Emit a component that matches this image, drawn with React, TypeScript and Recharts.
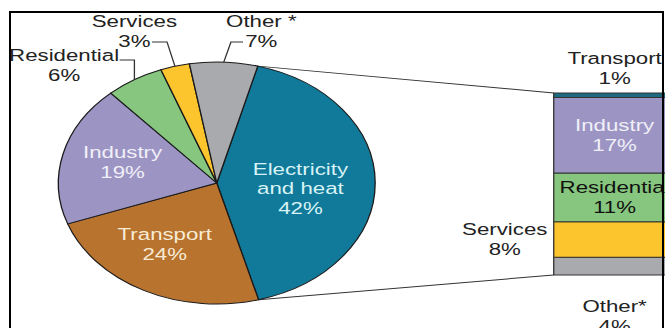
import React from 'react';
import { PieChart, Pie, Cell, BarChart, Bar, XAxis, YAxis, LabelList } from 'recharts';

// Pie: CO2 emissions by sector
const pieNames = ['Electricity\nand heat', 'Transport', 'Industry', 'Residential', 'Services', 'Other *'];
const pieValues = [42, 24, 19, 6, 3, 7];
const pieColors = ['#117a9a', '#b8732f', '#9c95c3', '#86c67e', '#fcc52e', '#a9aaae'];

// Bar: breakdown of electricity and heat by end-use sector (top to bottom)
const barNames = ['Transport', 'Industry', 'Residential', 'Services', 'Other*'];
const barValues = [1, 17, 11, 8, 4];
const barColors = ['#1b6a80', '#9c95c3', '#86c67e', '#fcc52e', '#a9aaae'];

const W = 665;
const H = 328;
const INNER_W = 508; // drawn narrower, then stretched like the original image
const SX = W / INNER_W;
const FONT = "'Liberation Sans', Arial, sans-serif";

const PIE = { cx: 165.6, cy: 183, r: 121, start: 75 };
// bar runs past the right edge of the picture, as in the cropped original
const BAR = { left: 423, width: 110, top: 93, bottom: 53, chartW: 560, labelCx: 46.5 };

const RAD = Math.PI / 180;

const pieData = pieNames.map((name, i) => ({ name, value: pieValues[i] }));
const barRow: Record<string, number | string> = { name: 'Electricity and heat' };
barNames.forEach((n, i) => (barRow[n] = barValues[i]));
const barTotal = barValues.reduce((a, b) => a + b, 0);
const pieTotal = pieValues.reduce((a, b) => a + b, 0);

// label layout per slice
const insideLabels: Record<string, { frac: number; nudge: number; fill: string }> = {
  'Electricity\nand heat': { frac: 0.53, nudge: -5, fill: '#d8f3f6' },
  Transport: { frac: 0.6, nudge: -5.7, fill: '#f7ebd5' },
  Industry: { frac: 0.62, nudge: -2.3, fill: '#f0eff8' },
};
const outsideLabels: Record<string, { elbowDx: number; elbowY: number; endDx: number; textDx: number; textY: number }> = {
  Residential: { elbowDx: 0, elbowY: 60, endDx: -11.3, textDx: -42.4, textY: 55 },
  Services: { elbowDx: -6.1, elbowY: 42, endDx: -11.5, textDx: -13.4, textY: 21 },
  'Other *': { elbowDx: 5.5, elbowY: 42, endDx: 9.2, textDx: 14, textY: 21 },
};

function PieLabel(props: any) {
  const { cx, cy, midAngle, outerRadius, name, value } = props;
  const lines = [...String(name).split('\n'), `${value}%`];
  const inside = insideLabels[name];
  if (inside) {
    const a = (midAngle + inside.nudge) * RAD;
    const rr = outerRadius * inside.frac;
    const x = cx + rr * Math.cos(-a);
    const y = cy + rr * Math.sin(-a);
    const y0 = y - ((lines.length - 1) * 19.5) / 2;
    return (
      <text x={x} textAnchor="middle" fill={inside.fill} fontSize={17} fontFamily={FONT}>
        {lines.map((l, i) => (
          <tspan key={i} x={x} y={y0 + i * 19.5} dominantBaseline="central">{l}</tspan>
        ))}
      </text>
    );
  }
  const o = outsideLabels[name];
  if (!o) return null;
  const a = midAngle * RAD;
  const rx = cx + outerRadius * Math.cos(-a);
  const ry = cy + outerRadius * Math.sin(-a);
  const ex = rx + o.elbowDx;
  const endX = ex + o.endDx;
  const tx = endX + o.textDx;
  return (
    <g>
      <polyline points={`${rx},${ry} ${ex},${o.elbowY} ${endX},${o.elbowY}`} fill="none" stroke="#333" strokeWidth={1} />
      <text textAnchor="middle" fill="#222" fontSize={17} fontFamily={FONT}>
        {lines.map((l, i) => (
          <tspan key={i} x={tx} y={o.textY + i * 20} dominantBaseline="central">{l}</tspan>
        ))}
      </text>
    </g>
  );
}

function makeBarLabel(name: string) {
  return (props: any) => {
    const { x, y, height, value } = props;
    const lines = [name, `${value}%`];
    let cx = x + BAR.labelCx;
    let cy = y + height / 2;
    let fill = '#222';
    if (name === 'Transport') cy = y - 25;
    else if (name === 'Other*') cy = y + height + 41;
    else if (name === 'Services') cx = x - 37.4;
    else if (name === 'Industry') fill = '#f0eff8';
    else if (name === 'Residential') fill = '#111';
    return (
      <text textAnchor="middle" fill={fill} fontSize={17} fontFamily={FONT}>
        {lines.map((l, i) => (
          <tspan key={i} x={cx} y={cy - 10 + i * 20} dominantBaseline="central">{l}</tspan>
        ))}
      </text>
    );
  };
}

function Connectors() {
  const elecEnd = PIE.start - (360 * pieValues[0]) / pieTotal;
  const p1 = { x: PIE.cx + PIE.r * Math.cos(-PIE.start * RAD), y: PIE.cy + PIE.r * Math.sin(-PIE.start * RAD) };
  const p2 = { x: PIE.cx + PIE.r * Math.cos(-elecEnd * RAD), y: PIE.cy + PIE.r * Math.sin(-elecEnd * RAD) };
  const barTop = BAR.top;
  const barBottom = H - BAR.bottom;
  return (
    <svg width={INNER_W} height={H} style={{ position: 'absolute', left: 0, top: 0 }}>
      <line x1={p1.x} y1={p1.y} x2={BAR.left} y2={barTop} stroke="#333" strokeWidth={1} />
      <line x1={p2.x} y1={p2.y} x2={BAR.left} y2={barBottom} stroke="#333" strokeWidth={1} />
    </svg>
  );
}

export default function App() {
  const orderBottomUp = barNames.map((n, i) => ({ n, c: barColors[i] })).reverse();
  return (
    <div style={{ position: 'absolute', left: 0, top: 0, width: W, height: H, overflow: 'hidden', background: '#fff' }}>
      <div style={{ position: 'absolute', left: 0, top: 0, width: INNER_W, height: H, transform: `scaleX(${SX})`, transformOrigin: '0 0' }}>
        <Connectors />
        <div style={{ position: 'absolute', left: 0, top: 0 }}>
          <PieChart width={INNER_W} height={H} margin={{ top: 0, right: 0, bottom: 0, left: 0 }}>
            <Pie
              data={pieData}
              dataKey="value"
              nameKey="name"
              cx={PIE.cx}
              cy={PIE.cy}
              outerRadius={PIE.r}
              startAngle={PIE.start}
              endAngle={PIE.start - 360}
              stroke="#1a1a1a"
              strokeWidth={1}
              label={PieLabel}
              labelLine={false}
              isAnimationActive={false}
            >
              {pieData.map((d, i) => (
                <Cell key={d.name} fill={pieColors[i]} />
              ))}
            </Pie>
          </PieChart>
        </div>
        <div style={{ position: 'absolute', left: 0, top: 0 }}>
          <BarChart
            width={BAR.chartW}
            height={H}
            data={[barRow]}
            margin={{ top: BAR.top, bottom: BAR.bottom, left: BAR.left, right: BAR.chartW - BAR.left - BAR.width }}
            barCategoryGap={0}
          >
            <XAxis dataKey="name" type="category" hide />
            <YAxis type="number" domain={[0, barTotal]} hide />
            {orderBottomUp.map(({ n, c }) => (
              <Bar key={n} dataKey={n} stackId="a" fill={c} stroke="#333" strokeWidth={1} isAnimationActive={false}>
                <LabelList dataKey={n} content={makeBarLabel(n)} />
              </Bar>
            ))}
          </BarChart>
        </div>
      </div>
      {/* picture frame, right side sits at the image edge */}
      <div style={{ position: 'absolute', left: 9, top: 11, width: 651, height: 400, border: '2px solid #000' }} />
    </div>
  );
}
